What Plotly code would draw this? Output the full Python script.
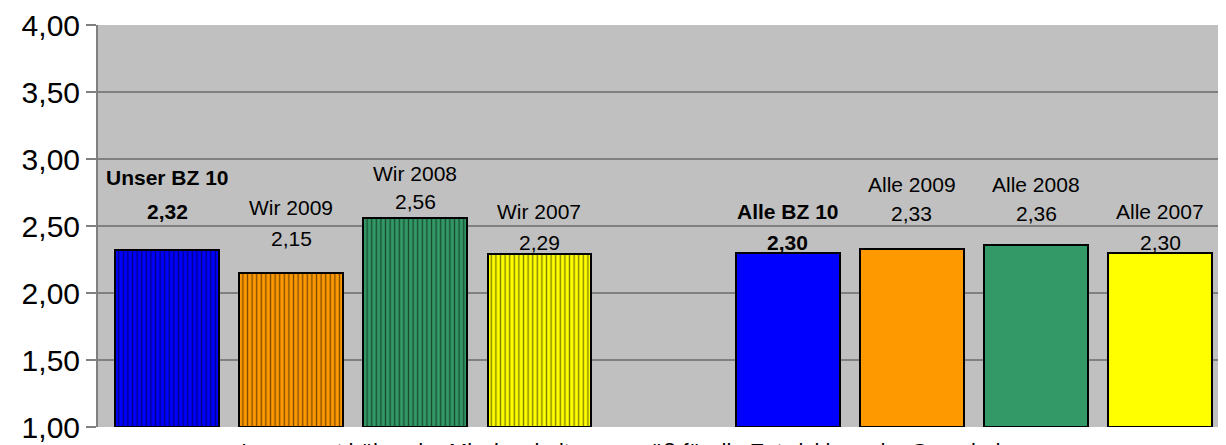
import plotly.graph_objects as go

# bar data
names = ["Unser BZ 10", "Wir 2009", "Wir 2008", "Wir 2007",
         "Alle BZ 10", "Alle 2009", "Alle 2008", "Alle 2007"]
values = [2.32, 2.15, 2.56, 2.29, 2.30, 2.33, 2.36, 2.30]
slots = [0, 1, 2, 3, 5, 6, 7, 8]  # slot 4 stays empty between the groups
colors = ["#0000FF", "#FF9900", "#339966", "#FFFF00",
          "#0000FF", "#FF9900", "#339966", "#FFFF00"]
striped = [True, True, True, True, False, False, False, False]
bold = [True, False, False, False, True, False, False, False]
y_ticks = [1.0, 1.5, 2.0, 2.5, 3.0, 3.5, 4.0]
bottom_text = "Insgesamt höher der Missionsbeitrag gemäß für die Entwicklung der Gemeinden"

# label placement (hand set in the original chart)
name_y = [2.86, 2.64, 2.89, 2.61, 2.61, 2.81, 2.81, 2.61]
value_y = [2.61, 2.41, 2.68, 2.38, 2.38, 2.59, 2.59, 2.38]

fig = go.Figure()
for i in range(len(values)):
    fig.add_trace(go.Bar(
        x=[slots[i]], y=[values[i] - 1.0], base=1.0,
        width=0.835,
        marker=dict(
            color=colors[i],
            line=dict(color="black", width=2),
            pattern=dict(shape="|" if striped[i] else "", fgcolor="black",
                         bgcolor=colors[i], size=4.6, solidity=0.3),
        ),
        showlegend=False, hoverinfo="skip",
    ))

annotations = []
for i in range(len(values)):
    val = f"{values[i]:.2f}".replace(".", ",")
    if bold[i]:
        top_txt, val_txt = f"<b>{names[i]}</b>", f"<b>{val}</b>"
    else:
        top_txt, val_txt = names[i], val
    annotations.append(dict(x=slots[i], y=name_y[i], text=top_txt, showarrow=False,
                            font=dict(family="Arial", size=21, color="black")))
    annotations.append(dict(x=slots[i], y=value_y[i], text=val_txt, showarrow=False,
                            font=dict(family="Arial", size=21, color="black")))

# axis title, mostly cut off by the bottom edge like in the original
annotations.append(dict(xref="paper", yref="paper", x=0.125, y=-0.025,
                        xanchor="left", yanchor="top", text=bottom_text,
                        showarrow=False,
                        font=dict(family="Arial", size=22, color="black")))

# page body has an 8px margin, so the figure is shifted by 8px
fig.update_layout(
    width=1218, height=445,
    margin=dict(l=90, r=0, t=15, b=26),
    paper_bgcolor="white", plot_bgcolor="#C0C0C0",
    separators=",.",
    bargap=0,
    annotations=annotations,
    xaxis=dict(range=[-0.556, 8.53], showticklabels=False, showgrid=False,
               zeroline=False, showline=False, ticks=""),
    yaxis=dict(range=[1.0, 4.0], tickvals=y_ticks, tickformat=".2f",
               ticksuffix=" ",
               showgrid=True, gridcolor="#808080", gridwidth=2,
               zeroline=False, showline=True, linecolor="#808080", linewidth=2,
               ticks="outside", ticklen=10, tickcolor="#808080", tickwidth=2,
               ticklabeloverflow="allow",
               tickfont=dict(family="Arial", size=30, color="black")),
)

fig.write_html("out.html")
